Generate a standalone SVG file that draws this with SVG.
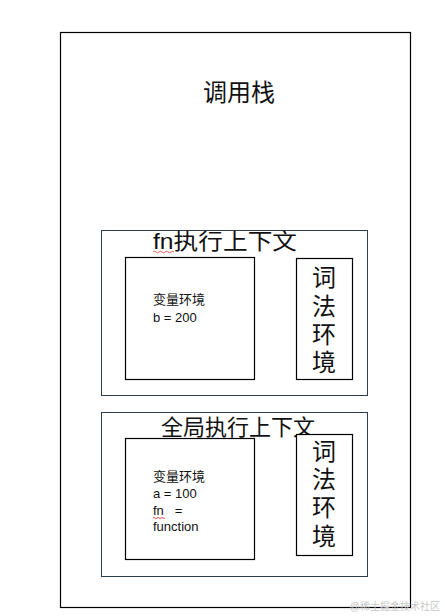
<svg xmlns="http://www.w3.org/2000/svg" width="445" height="616" viewBox="0 0 445 616">
<style>
text{font-family:"Liberation Sans","Noto Sans CJK SC",sans-serif;fill:#111}
.ctx{fill:none;stroke:#2c3e50;stroke-width:1}
.box{fill:#fff;stroke:#000;stroke-width:1.2}
.t{font-size:22px}
.s{font-size:13px}
.lex{font-size:24px;text-anchor:middle}
.sq{fill:none;stroke:#e03030;stroke-width:0.8}
</style>
<rect width="445" height="616" fill="#fff"/>
<g id="stack">
<rect x="60.5" y="32.5" width="350" height="575" fill="#fff" stroke="#000" stroke-width="1.2"/>
<text x="239" y="101" font-size="24" text-anchor="middle">调用栈</text>
</g>
<g id="fn-context">
<rect class="ctx" x="101.5" y="230.5" width="266" height="165"/>
<text class="t" x="153" y="249" textLength="144" lengthAdjust="spacingAndGlyphs">fn执行上下文</text>
<path class="sq" d="M153,252 q1.5,-1.5 3,0 t3,0 t3,0 t3,0 t3,0 t3,0 t3,0"/>
</g>
<g id="fn-var-env">
<rect class="box" x="125.5" y="257.5" width="129" height="122"/>
<text class="s" x="153" y="304">变量环境</text>
<text class="s" x="153" y="322">b = 200</text>
</g>
<g id="fn-lex-env">
<rect class="box" x="296.5" y="258.5" width="56" height="121"/>
<text class="lex" x="324" y="286">词</text>
<text class="lex" x="324" y="315">法</text>
<text class="lex" x="324" y="343">环</text>
<text class="lex" x="324" y="371">境</text>
</g>
<g id="global-context">
<rect class="ctx" x="101.5" y="412.5" width="266" height="164"/>
<text class="t" x="161" y="435">全局执行上下文</text>
</g>
<g id="global-var-env">
<rect class="box" x="125.5" y="438.5" width="129" height="121"/>
<text class="s" x="153" y="481">变量环境</text>
<text class="s" x="153" y="498">a = 100</text>
<text class="s" x="153" y="515">fn&#160;&#160;&#160;=</text>
<path class="sq" d="M153,518 q1,-1.2 2,0 t2,0 t2,0 t2,0 t2,0 t2,0"/>
<text class="s" x="153" y="531">function</text>
</g>
<g id="global-lex-env">
<rect class="box" x="296.5" y="434.5" width="56" height="121"/>
<text class="lex" x="324" y="460">词</text>
<text class="lex" x="324" y="488">法</text>
<text class="lex" x="324" y="516">环</text>
<text class="lex" x="324" y="545">境</text>
</g>
<g id="connectors"></g>
<text x="440" y="610" font-size="10" text-anchor="end" style="fill:#c8c8c8">@稀土掘金技术社区</text>
</svg>
